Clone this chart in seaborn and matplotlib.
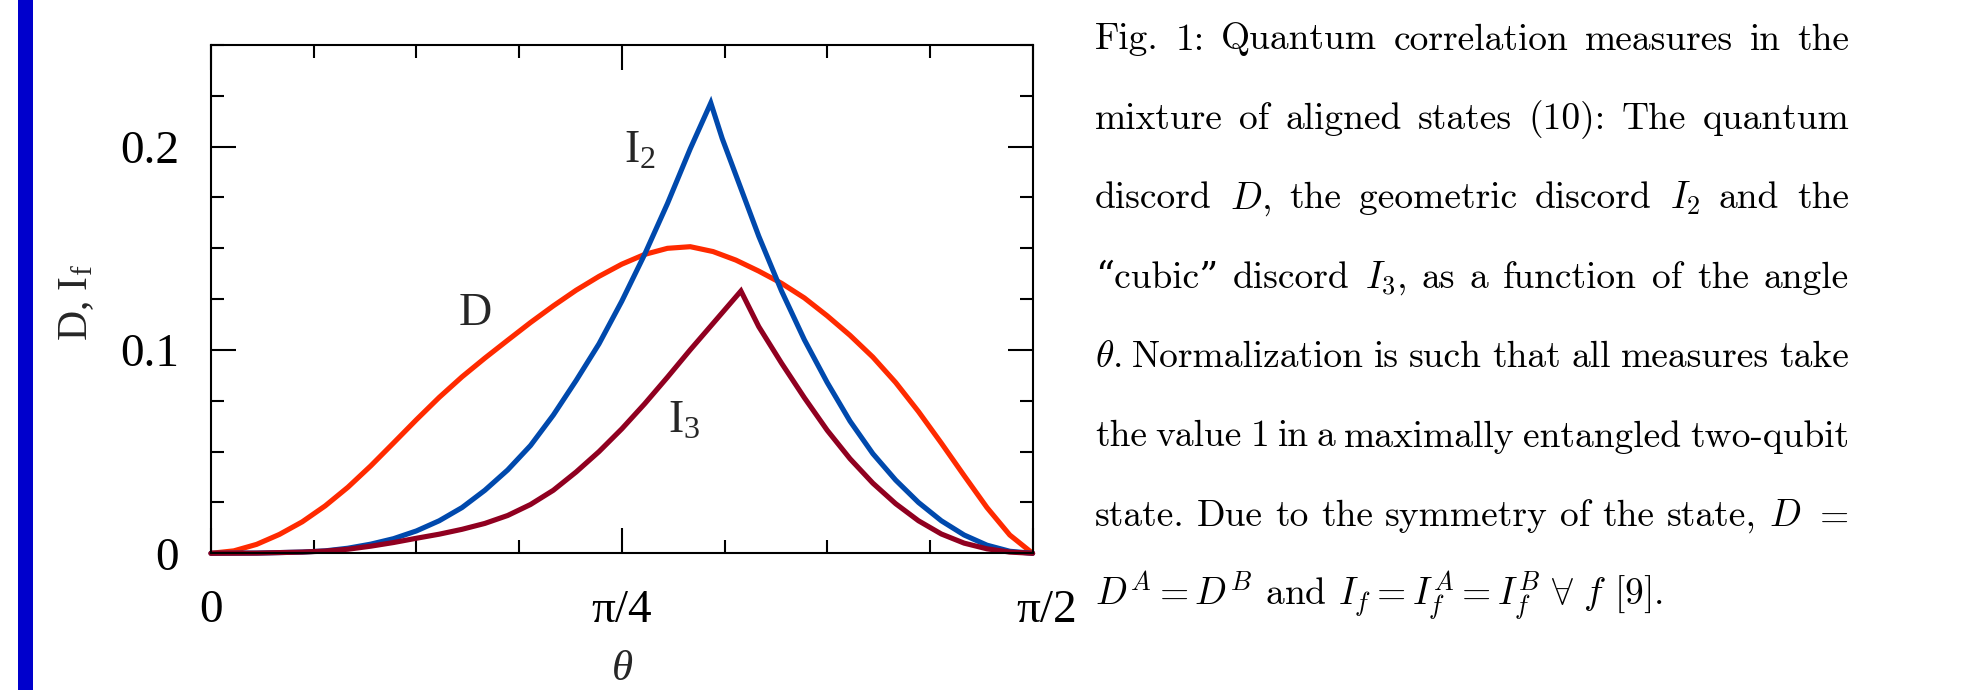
import numpy as np
import pandas as pd
import seaborn as sns
import matplotlib
matplotlib.use("Agg")
import matplotlib.pyplot as plt
from matplotlib.transforms import IdentityTransform, ScaledTranslation
from matplotlib.patches import Rectangle

# ---------------- data (theta in degrees) ----------------
theta_D = [0, 2.5, 5, 7.5, 10, 12.5, 15, 17.5, 20, 22.5, 25, 27.5, 30, 32.5, 35, 37.5,
           40, 42.5, 45, 47.5, 50, 52.5, 55, 57.5, 60, 62.5, 65, 67.5, 70, 72.5, 75,
           77.5, 80, 82.5, 85, 87.5, 90]
D_vals = [0, 0.0012, 0.0044, 0.0093, 0.0155, 0.0233, 0.0325, 0.0430, 0.0543, 0.0657,
          0.0767, 0.0868, 0.0960, 0.1048, 0.1135, 0.1217, 0.1294, 0.1362, 0.1422,
          0.1470, 0.1500, 0.1508, 0.1484, 0.1442, 0.1388, 0.1328, 0.1256, 0.1168,
          0.1072, 0.0965, 0.0840, 0.0697, 0.0542, 0.0382, 0.0225, 0.0090, 0]

theta_I2 = [0, 5, 10, 12.5, 15, 17.5, 20, 22.5, 25, 27.5, 30, 32.5, 35, 37.5, 40, 42.5,
            45, 47.5, 50, 52.5, 54.75, 56, 57.5, 60, 62.5, 65, 67.5, 70, 72.5, 75, 77.5,
            80, 82.5, 85, 87.5, 90]
I2_vals = [0, 0.0001, 0.0006, 0.0012, 0.0025, 0.0045, 0.0072, 0.0110, 0.0160, 0.0225,
           0.0310, 0.0410, 0.0530, 0.0680, 0.0850, 0.1030, 0.1240, 0.1470, 0.1720,
           0.1990, 0.2215, 0.2040, 0.1860, 0.1560, 0.1290, 0.1050, 0.0840, 0.0650,
           0.0490, 0.0360, 0.0250, 0.0160, 0.0090, 0.0040, 0.0010, 0]

theta_I3 = [0, 5, 10, 12.5, 15, 17.5, 20, 22.5, 25, 27.5, 30, 32.5, 35, 37.5, 40, 42.5,
            45, 47.5, 50, 52.5, 55, 58.05, 60, 62.5, 65, 67.5, 70, 72.5, 75, 77.5, 80,
            82.5, 85, 87.5, 90]
I3_vals = [0, 0.0001, 0.0006, 0.0011, 0.0020, 0.0035, 0.0053, 0.0074, 0.0094, 0.0118,
           0.0147, 0.0186, 0.0240, 0.0310, 0.0400, 0.0500, 0.0612, 0.0735, 0.0866,
           0.1001, 0.1131, 0.1290, 0.1115, 0.0935, 0.0765, 0.0605, 0.0465, 0.0345,
           0.0244, 0.0160, 0.0095, 0.0050, 0.0022, 0.0006, 0]

series_names = ["D", "I2", "I3"]
series_colors = ["#FF2A00", "#0049AD", "#900020"]

x_tick_labels = ["0", "π/4", "π/2"]
y_tick_labels = ["0", "0.1", "0.2"]

caption_lines = [
    ["Fig.", "1:", "Quantum", "correlation", "measures", "in", "the"],
    ["mixture", "of", "aligned", "states", "(10):", "The", "quantum"],
    ["discord", "$D$,", "the", "geometric", "discord", "$I_2$", "and", "the"],
    ["\u201ccubic\u201d", "discord", "$I_3$,", "as", "a", "function", "of", "the", "angle"],
    ["$\\theta$.", "Normalization", "is", "such", "that", "all", "measures", "take"],
    ["the", "value", "1", "in", "a", "maximally", "entangled", "two-qubit"],
    ["state.", "Due", "to", "the", "symmetry", "of", "the", "state,", "$D$", "$=$"],
]
caption_last = "$D^A = D^B$ and $I_f = I_f^A = I_f^B\\ \\forall\\ f$ [9]."

# ---------------- style ----------------
sns.set_theme(style="ticks")
plt.rcParams.update({
    "font.family": ["Liberation Serif", "DejaVu Serif"],
    "mathtext.fontset": "custom",
    "mathtext.rm": "Liberation Serif",
    "mathtext.it": "Liberation Serif:italic",
    "mathtext.bf": "Liberation Serif:bold",
    "axes.edgecolor": "black",
    "axes.linewidth": 1.5,
    "xtick.color": "black",
    "ytick.color": "black",
})

W, H = 1965, 690
fig = plt.figure(figsize=(W / 100, H / 100), dpi=100, facecolor="white")
ax = fig.add_axes([211 / W, (H - 553.3) / H, 821.6 / W, 508.3 / H])

frames = []
for name, th, vals in [("D", theta_D, D_vals), ("I2", theta_I2, I2_vals), ("I3", theta_I3, I3_vals)]:
    frames.append(pd.DataFrame({"theta": np.deg2rad(th), "value": vals, "measure": name}))
df = pd.concat(frames, ignore_index=True)

sns.lineplot(data=df, x="theta", y="value", hue="measure", hue_order=series_names,
             palette=dict(zip(series_names, series_colors)), estimator=None, sort=False,
             linewidth=3.7, legend=False, ax=ax)
for ln in ax.get_lines():
    ln.set_clip_on(False)
    ln.set_solid_joinstyle("miter")

ax.set_xlim(0, np.pi / 2)
ax.set_ylim(0, 0.25)
ax.set_xticks([0, np.pi / 4, np.pi / 2], x_tick_labels)
ax.set_xticks(np.arange(9) * np.pi / 16, minor=True)
ax.set_yticks([0, 0.1, 0.2], y_tick_labels)
ax.set_yticks(np.arange(11) * 0.025, minor=True)
ax.tick_params(which="both", direction="in", top=True, right=True, width=1.5)
ax.tick_params(which="major", length=18, labelsize=34)
ax.tick_params(which="minor", length=9.5)
ax.tick_params(axis="x", which="major", pad=26)
ax.tick_params(axis="y", which="major", pad=23)
for s in ax.spines.values():
    s.set_visible(True)
    s.set_linewidth(1.5)

# the "π/2" label sits a little to the right of its tick in the original
last_tick = ax.xaxis.get_major_ticks()[2]
last_tick.label1.set_transform(last_tick.label1.get_transform()
                               + ScaledTranslation(0.14, 0, fig.dpi_scale_trans))

ax.set_xlabel(r"$\theta$", fontsize=31, va="center")
ax.xaxis.set_label_coords(0.5, -0.229)
ax.set_ylabel(r"D, I$_\mathrm{f}$", fontsize=30, va="center", ha="center", rotation_mode="default")
ax.yaxis.set_label_coords(-0.163, 0.4924)

# curve labels
ax.text(np.deg2rad(27.1), 0.1121, "D", fontsize=33, ha="left", va="baseline")
ax.text(np.deg2rad(45.2), 0.192, r"I$_2$", fontsize=33, ha="left", va="baseline")
ax.text(np.deg2rad(50.1), 0.0592, r"I$_3$", fontsize=33, ha="left", va="baseline")

# blue bar at the left margin
fig.add_artist(Rectangle((18 / W, 0), 15 / W, 1, transform=fig.transFigure,
                         facecolor="#0000CC", edgecolor="none"))

# ---------------- caption (justified) ----------------
cap_left, cap_right = 1095, 1849
cap_base0, cap_step = 49.5, 79.4
cap_fs = 27.0
cap_family = ["cmr10", "DejaVu Serif"]
renderer = fig.canvas.get_renderer()
for i, words in enumerate(caption_lines):
    yb = H - (cap_base0 + i * cap_step)
    arts = [fig.text(0, yb, w, transform=IdentityTransform(), fontsize=cap_fs,
                     family=cap_family, math_fontfamily="cm", va="baseline", ha="left",
                     color="black") for w in words]
    widths = [a.get_window_extent(renderer).width for a in arts]
    gap = (cap_right - cap_left - sum(widths)) / (len(arts) - 1)
    x = cap_left
    for a, wd in zip(arts, widths):
        a.set_x(x)
        x += wd + gap
yb = H - (cap_base0 + len(caption_lines) * cap_step)
fig.text(cap_left, yb, caption_last, transform=IdentityTransform(), fontsize=cap_fs,
         family=cap_family, math_fontfamily="cm", va="baseline", ha="left", color="black")

fig.savefig("out.png", dpi=100, facecolor="white")
